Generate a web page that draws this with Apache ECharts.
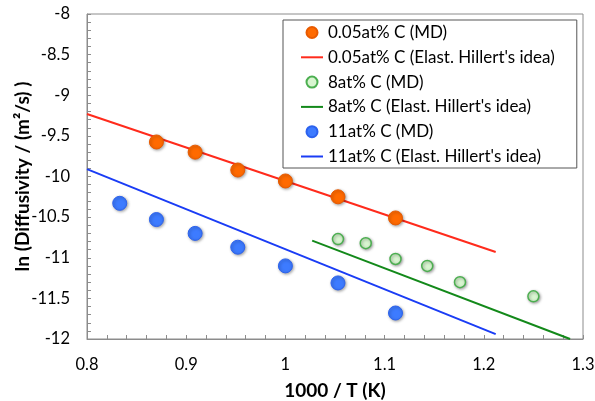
<!DOCTYPE html>
<html>
<head>
<meta charset="utf-8">
<script src="https://cdn.jsdelivr.net/npm/echarts@6/dist/echarts.min.js"></script>
<style>
html,body{margin:0;padding:0;background:#fff;}
#c{width:595px;height:401px;}
</style>
</head>
<body>
<div id="c"></div>
<script>
// Data
var orangeX = [0.870, 0.909, 0.952, 1.000, 1.053, 1.111];
var orangeY = [-9.575, -9.70, -9.92, -10.055, -10.25, -10.51];
var greenX = [1.053, 1.081, 1.111, 1.143, 1.176, 1.250];
var greenY = [-10.77, -10.82, -11.015, -11.10, -11.30, -11.475];
var blueX = [0.833, 0.870, 0.909, 0.952, 1.000, 1.053, 1.111];
var blueY = [-10.33, -10.53, -10.70, -10.87, -11.10, -11.31, -11.68];
var orangeLineX = [0.8, 1.212];
var orangeLineY = [-9.23, -10.93];
var greenLineX = [1.027, 1.287];
var greenLineY = [-10.79, -12.0];
var blueLineX = [0.8, 1.212];
var blueLineY = [-9.91, -11.94];
var seriesNames = [
  "0.05at% C (MD)",
  "0.05at% C (Elast. Hillert's idea)",
  "8at% C (MD)",
  "8at% C (Elast. Hillert's idea)",
  "11at% C (MD)",
  "11at% C (Elast. Hillert's idea)"
];

function pairs(xs, ys){ return xs.map(function(x,i){ return [x, ys[i]]; }); }

var FONT = 'Lato, "Open Sans", sans-serif';
var shadow = {shadowBlur: 3, shadowColor: 'rgba(0,0,0,0.35)', shadowOffsetX: 1, shadowOffsetY: 1};
var LINE_ICON = 'path://M0,0H22V2H0Z';
var DOT_ICON = 'circle';

var chart = echarts.init(document.getElementById('c'));
chart.setOption({
  animation: false,
  backgroundColor: '#fff',
  textStyle: {fontFamily: FONT},
  grid: {left: 87, right: 12, top: 14, bottom: 62, show: true, borderColor: '#8c8c8c', borderWidth: 1,
         containLabel: false, outerBoundsMode: 'none'},
  legend: {
    orient: 'vertical',
    left: 283, top: 20,
    padding: [4, 22, 3, 18],
    itemGap: 7.8,
    itemWidth: 22, itemHeight: 11,
    symbolKeepAspect: true,
    borderColor: '#555', borderWidth: 1,
    textStyle: {fontFamily: FONT, fontSize: 17, color: '#000'},
    data: [
      {name: seriesNames[0], icon: DOT_ICON},
      {name: seriesNames[1], icon: LINE_ICON},
      {name: seriesNames[2], icon: DOT_ICON},
      {name: seriesNames[3], icon: LINE_ICON},
      {name: seriesNames[4], icon: DOT_ICON},
      {name: seriesNames[5], icon: LINE_ICON}
    ]
  },
  xAxis: {
    type: 'value', min: 0.8, max: 1.3, interval: 0.1,
    name: '1000 / T (K)', nameLocation: 'middle', nameGap: 42, nameMoveOverlap: false,
    nameTextStyle: {fontFamily: FONT, fontSize: 19, fontWeight: 'bold', color: '#000'},
    axisLine: {show: true, lineStyle: {color: '#8c8c8c'}},
    axisTick: {show: true, inside: true, length: 4, lineStyle: {color: '#8c8c8c'}},
    minorTick: {show: true, splitNumber: 5, length: 4, lineStyle: {color: '#8c8c8c'}},
    splitLine: {show: false},
    axisLabel: {fontFamily: FONT, fontSize: 16.5, color: '#000', margin: 17}
  },
  yAxis: {
    type: 'value', min: -12, max: -8, interval: 0.5,
    name: 'ln (Diffusivity / (m²/s) )', nameLocation: 'middle', nameGap: 55, nameMoveOverlap: false,
    nameTextStyle: {fontFamily: FONT, fontSize: 19, fontWeight: 'bold', color: '#000'},
    axisLine: {show: true, lineStyle: {color: '#8c8c8c'}},
    axisTick: {show: true, inside: true, length: 4, lineStyle: {color: '#8c8c8c'}},
    minorTick: {show: true, splitNumber: 5, length: 4, lineStyle: {color: '#8c8c8c'}},
    splitLine: {show: false},
    axisLabel: {fontFamily: FONT, fontSize: 16.5, color: '#000', margin: 17, padding: [4, 0, 0, 0]}
  },
  series: [
    {name: seriesNames[0], type: 'scatter', symbol: 'circle', symbolSize: 14, z: 5,
     itemStyle: Object.assign({color: '#ff6a00', borderColor: '#e85a00', borderWidth: 1, opacity: 1}, shadow),
     data: pairs(orangeX, orangeY)},
    {name: seriesNames[1], type: 'line', symbol: 'none', z: 3,
     lineStyle: {color: '#ff2b1c', width: 2}, itemStyle: {color: '#ff2b1c'},
     data: pairs(orangeLineX, orangeLineY)},
    {name: seriesNames[2], type: 'scatter', symbol: 'circle', symbolSize: 11, z: 5,
     itemStyle: Object.assign({color: '#d8f5d0', borderColor: '#4caf50', borderWidth: 1.5, opacity: 1}, shadow),
     data: pairs(greenX, greenY)},
    {name: seriesNames[3], type: 'line', symbol: 'none', z: 3,
     lineStyle: {color: '#13891a', width: 2}, itemStyle: {color: '#13891a'},
     data: pairs(greenLineX, greenLineY)},
    {name: seriesNames[4], type: 'scatter', symbol: 'circle', symbolSize: 14, z: 5,
     itemStyle: Object.assign({color: '#3d7bff', borderColor: '#2c62ee', borderWidth: 1, opacity: 1}, shadow),
     data: pairs(blueX, blueY)},
    {name: seriesNames[5], type: 'line', symbol: 'none', z: 3,
     lineStyle: {color: '#1a3cf5', width: 2}, itemStyle: {color: '#1a3cf5'},
     data: pairs(blueLineX, blueLineY)}
  ]
});
</script>
</body>
</html>
